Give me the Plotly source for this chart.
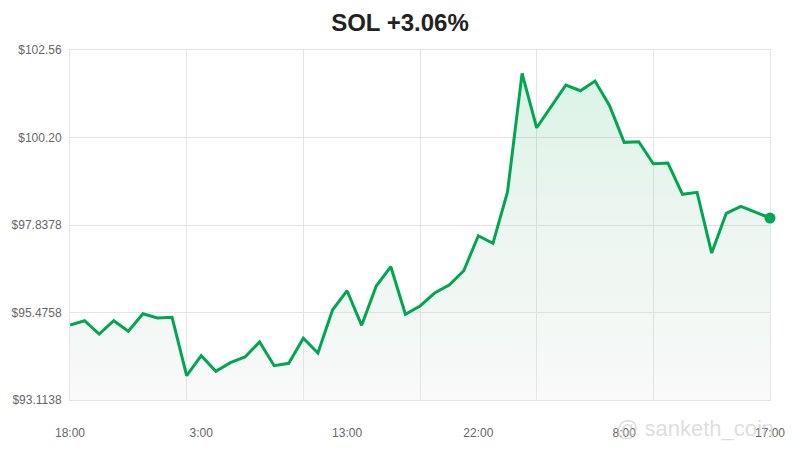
import plotly.graph_objects as go

# hourly SOL prices (index = hour step)
prices = [
    95.138, 95.254, 94.895, 95.254, 94.968, 95.443, 95.327, 95.346,
    93.770, 94.310, 93.889, 94.121, 94.275, 94.679, 94.040, 94.104,
    94.779, 94.382, 95.543, 96.064, 95.130, 96.191, 96.712, 95.427,
    95.651, 96.002, 96.218, 96.604, 97.548, 97.343, 98.728, 101.931,
    100.463, 101.041, 101.615, 101.462, 101.723, 101.057, 100.069, 100.085,
    99.491, 99.510, 98.665, 98.719, 97.081, 98.153, 98.342, 98.188,
    98.026,
]
steps = list(range(len(prices)))

x_tick_pos = [0, 9, 19, 28, 38, 48]
x_tick_labels = ["18:00", "3:00", "13:00", "22:00", "8:00", "17:00"]
x_grid_pos = [0, 8, 16, 24, 32, 40, 48]

y_ticks = [93.1138, 95.4758, 97.8378, 100.1998, 102.5618]
y_tick_labels = ["$93.1138", "$95.4758", "$97.8378", "$100.20", "$102.56"]

GREEN = "#00a650"
GRID = "#e4e4e4"

fig = go.Figure()

fig.add_trace(go.Scatter(
    x=steps, y=prices, mode="lines",
    line=dict(color=GREEN, width=3),
    fill="tozeroy",
    fillgradient=dict(
        type="vertical",
        start=y_ticks[0], stop=max(prices),
        colorscale=[[0, "rgba(235,235,235,0.25)"],
                    [0.5, "rgba(150,200,170,0.16)"],
                    [1, "rgba(0,170,80,0.14)"]],
    ),
    hoverinfo="skip",
))

# end-of-series dot
fig.add_trace(go.Scatter(
    x=[steps[-1]], y=[prices[-1]], mode="markers",
    marker=dict(color=GREEN, size=11),
    hoverinfo="skip", cliponaxis=False,
))

fig.update_layout(
    width=800, height=450,
    margin=dict(l=70, r=30, t=50, b=50, autoexpand=False),
    paper_bgcolor="white", plot_bgcolor="white",
    showlegend=False,
    font=dict(family="Liberation Sans, Arial, sans-serif", color="#666666", size=12),
    title=dict(text="<b>SOL +3.06%</b>", x=0.5, xanchor="center",
               y=1 - 23 / 450, yanchor="middle", yref="container",
               font=dict(size=24, color="#222222")),
)

fig.update_xaxes(
    range=[0, 48], tickvals=x_tick_pos, ticktext=x_tick_labels,
    showgrid=False, zeroline=False, ticks="", ticklabelstandoff=22,
    automargin=False, layer="below traces",
    showline=True, mirror=True, linecolor=GRID, linewidth=1,
    minor=dict(tickvals=x_grid_pos, showgrid=True, gridcolor=GRID, gridwidth=1),
)
fig.update_yaxes(
    range=[y_ticks[0], y_ticks[-1]], tickvals=y_ticks, ticktext=y_tick_labels,
    showgrid=True, gridcolor=GRID, gridwidth=1, zeroline=False, ticks="",
    ticklabelstandoff=5, automargin=False, layer="below traces",
    showline=True, mirror=True, linecolor=GRID, linewidth=1,
)

# faint watermark
fig.add_annotation(
    text="@ sanketh_coin", xref="paper", yref="paper", x=0.893, y=-0.08,
    xanchor="center", yanchor="middle",
    showarrow=False, font=dict(size=22, color="rgba(200,200,200,0.6)"),
)

# the page's default body margin would shift the chart by 8px
fig.write_html("out.html", config={"displayModeBar": False},
               post_script="document.body.style.margin='0';")
